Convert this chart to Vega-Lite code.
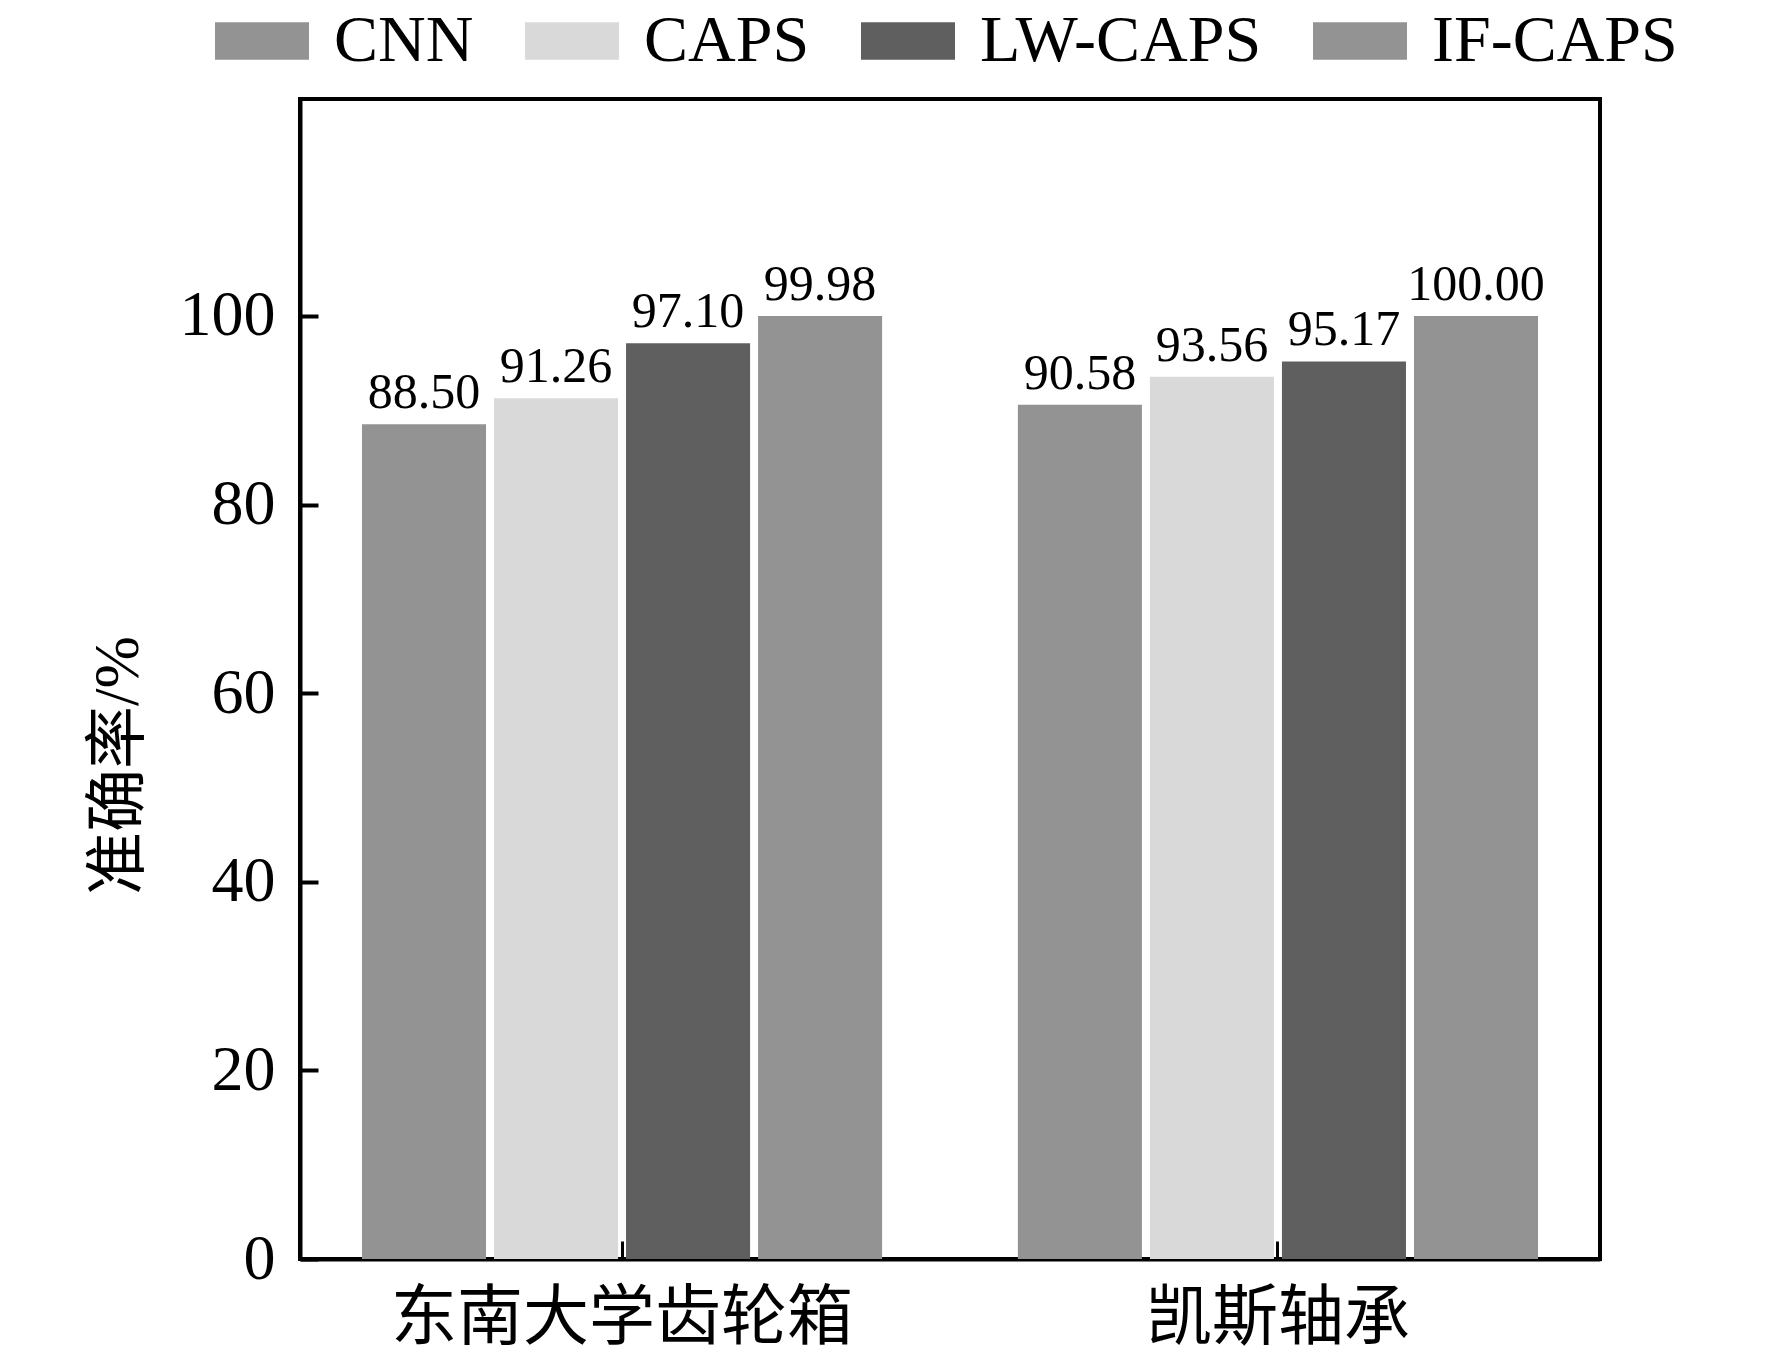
{
  "$schema": "https://vega.github.io/schema/vega-lite/v6.json",
  "width": 1300,
  "height": 1160,
  "autosize": {"type": "none"},
  "padding": {"left": 300, "top": 99, "right": 172, "bottom": 104},
  "background": "white",
  "config": {
    "view": {"stroke": "black", "strokeWidth": 4},
    "font": "Liberation Serif"
  },
  "data": {
    "values": [
      {"dataset": "东南大学齿轮箱", "model": "CNN", "value": 88.50},
      {"dataset": "东南大学齿轮箱", "model": "CAPS", "value": 91.26},
      {"dataset": "东南大学齿轮箱", "model": "LW-CAPS", "value": 97.10},
      {"dataset": "东南大学齿轮箱", "model": "IF-CAPS", "value": 99.98},
      {"dataset": "凯斯轴承", "model": "CNN", "value": 90.58},
      {"dataset": "凯斯轴承", "model": "CAPS", "value": 93.56},
      {"dataset": "凯斯轴承", "model": "LW-CAPS", "value": 95.17},
      {"dataset": "凯斯轴承", "model": "IF-CAPS", "value": 100.00}
    ]
  },
  "encoding": {
    "x": {
      "field": "dataset",
      "type": "nominal",
      "sort": ["东南大学齿轮箱", "凯斯轴承"],
      "scale": {"paddingInner": 0.207, "paddingOuter": 0.0945},
      "axis": {
        "title": null,
        "labelAngle": 0,
        "labelFont": "Noto Sans CJK SC",
        "labelFontSize": 66,
        "labelColor": "black",
        "labelPadding": 45,
        "labelLimit": 0,
        "domainColor": "black",
        "domainWidth": 4,
        "tickColor": "black",
        "tickWidth": 3,
        "tickSize": -18
      }
    },
    "xOffset": {
      "field": "model",
      "type": "nominal",
      "sort": ["CNN", "CAPS", "LW-CAPS", "IF-CAPS"],
      "scale": {"paddingInner": 0.0606, "paddingOuter": 0}
    },
    "y": {
      "field": "value",
      "type": "quantitative",
      "scale": {"domain": [0, 123], "nice": false},
      "axis": {
        "values": [0, 20, 40, 60, 80, 100],
        "grid": false,
        "title": "准确率/%",
        "titleFont": "Liberation Serif, Noto Sans CJK SC",
        "titleFontSize": 63,
        "titleFontWeight": "normal",
        "titleColor": "black",
        "titleAngle": 270,
        "titleAlign": "center",
        "titleBaseline": "middle",
        "titleX": -182,
        "titleY": 666,
        "labelFontSize": 64,
        "labelColor": "black",
        "labelPadding": 43,
        "domainColor": "black",
        "domainWidth": 4,
        "tickColor": "black",
        "tickWidth": 4,
        "tickSize": -18
      }
    }
  },
  "layer": [
    {
      "mark": {"type": "bar"},
      "encoding": {
        "color": {
          "field": "model",
          "type": "nominal",
          "scale": {
            "domain": ["CNN", "CAPS", "LW-CAPS", "IF-CAPS"],
            "range": ["#939393", "#d9d9d9", "#5f5f5f", "#939393"]
          },
          "legend": {
            "orient": "none",
            "legendX": -85,
            "legendY": -105,
            "direction": "horizontal",
            "title": null,
            "padding": 0,
            "symbolType": "M-1,-0.4H1V0.4H-1Z",
            "symbolSize": 8836,
            "symbolStrokeWidth": 0,
            "symbolOpacity": 1,
            "labelFont": "Liberation Serif",
            "labelFontSize": 66,
            "labelColor": "black",
            "labelOffset": 25,
            "labelLimit": 0,
            "columnPadding": 51
          }
        }
      }
    },
    {
      "mark": {
        "type": "text",
        "baseline": "alphabetic",
        "dy": -16,
        "fontSize": 50,
        "font": "Liberation Serif",
        "color": "black"
      },
      "encoding": {
        "text": {"field": "value", "type": "quantitative", "format": ".2f"}
      }
    }
  ]
}
